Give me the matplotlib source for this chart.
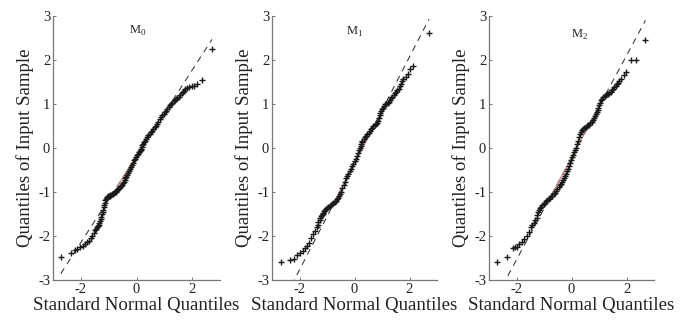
import numpy as np
import matplotlib
matplotlib.use('Agg')
import matplotlib.pyplot as plt

# Q-Q plot readings: theoretical quantile (x) and sample quantile (y) per model
m0_x = [-2.72, -2.36, -2.20, -2.12, -2.03, -1.94, -1.85, -1.78, -1.72, -1.65,
        -1.60, -1.54, -1.48, -1.45, -1.42, -1.39, -1.36, -1.33, -1.31, -1.28,
        -1.26, -1.24, -1.22, -1.20, -1.18, -1.16, -1.14, -1.12, -1.10, -1.07,
        -1.05, -1.02, -1.00, -0.97, -0.94, -0.91, -0.88, -0.84, -0.81, -0.78,
        -0.75, -0.72, -0.69, -0.66, -0.63, -0.60, -0.56, -0.53, -0.49, -0.46,
        -0.43, -0.40, -0.36, -0.33, -0.30, -0.27, -0.24, -0.20, -0.17, -0.13,
        -0.09, -0.05, -0.01, 0.03, 0.07, 0.10, 0.13, 0.15, 0.17, 0.19,
        0.20, 0.23, 0.26, 0.30, 0.34, 0.38, 0.43, 0.47, 0.52, 0.56,
        0.61, 0.65, 0.70, 0.74, 0.79, 0.84, 0.89, 0.93, 0.98, 1.02,
        1.07, 1.11, 1.16, 1.20, 1.25, 1.29, 1.34, 1.38, 1.43, 1.47,
        1.52, 1.57, 1.62, 1.66, 1.71, 1.75, 1.80, 1.89, 1.98, 2.07,
        2.16, 2.35, 2.71]
m0_y = [-2.47, -2.39, -2.32, -2.29, -2.26, -2.22, -2.18, -2.14, -2.11, -2.05,
        -2.01, -1.93, -1.86, -1.83, -1.80, -1.77, -1.74, -1.70, -1.66, -1.61,
        -1.56, -1.50, -1.45, -1.40, -1.35, -1.29, -1.24, -1.19, -1.16, -1.14,
        -1.12, -1.10, -1.09, -1.08, -1.07, -1.06, -1.05, -1.04, -1.03, -1.01,
        -0.99, -0.97, -0.96, -0.94, -0.92, -0.89, -0.86, -0.83, -0.80, -0.77,
        -0.73, -0.69, -0.65, -0.61, -0.56, -0.52, -0.47, -0.43, -0.38, -0.33,
        -0.28, -0.24, -0.20, -0.16, -0.13, -0.10, -0.07, -0.04, -0.02, 0.03,
        0.07, 0.10, 0.13, 0.17, 0.21, 0.25, 0.29, 0.32, 0.36, 0.39,
        0.43, 0.47, 0.51, 0.55, 0.60, 0.65, 0.70, 0.74, 0.78, 0.81,
        0.85, 0.89, 0.93, 0.97, 1.00, 1.03, 1.06, 1.08, 1.11, 1.14,
        1.17, 1.21, 1.24, 1.27, 1.30, 1.33, 1.37, 1.39, 1.41, 1.42,
        1.45, 1.54, 2.24]

m1_x = [-2.67, -2.36, -2.21, -2.08, -1.98, -1.89, -1.80, -1.72, -1.64, -1.58,
        -1.52, -1.45, -1.38, -1.34, -1.31, -1.27, -1.24, -1.21, -1.19, -1.16,
        -1.14, -1.10, -1.07, -1.04, -1.00, -0.95, -0.90, -0.86, -0.81, -0.77,
        -0.72, -0.68, -0.64, -0.60, -0.56, -0.52, -0.49, -0.45, -0.40, -0.36,
        -0.31, -0.27, -0.22, -0.18, -0.13, -0.09, -0.04, 0.00, 0.05, 0.09,
        0.12, 0.16, 0.19, 0.22, 0.24, 0.27, 0.29, 0.33, 0.37, 0.42,
        0.46, 0.51, 0.55, 0.60, 0.64, 0.69, 0.73, 0.78, 0.82, 0.85,
        0.88, 0.91, 0.94, 0.97, 1.00, 1.03, 1.06, 1.11, 1.15, 1.20,
        1.24, 1.29, 1.33, 1.38, 1.42, 1.47, 1.51, 1.56, 1.60, 1.65,
        1.69, 1.73, 1.77, 1.86, 1.95, 2.02, 2.13, 2.71]
m1_y = [-2.60, -2.54, -2.52, -2.44, -2.38, -2.33, -2.28, -2.22, -2.17, -2.05,
        -1.95, -1.88, -1.80, -1.74, -1.69, -1.63, -1.58, -1.55, -1.52, -1.49,
        -1.47, -1.44, -1.41, -1.38, -1.36, -1.34, -1.32, -1.30, -1.28, -1.26,
        -1.23, -1.20, -1.17, -1.13, -1.08, -1.04, -0.99, -0.92, -0.84, -0.77,
        -0.69, -0.63, -0.58, -0.52, -0.47, -0.41, -0.36, -0.30, -0.24, -0.18,
        -0.12, -0.05, 0.01, 0.05, 0.09, 0.13, 0.16, 0.20, 0.24, 0.28,
        0.31, 0.35, 0.39, 0.43, 0.46, 0.49, 0.52, 0.55, 0.57, 0.62,
        0.68, 0.74, 0.79, 0.84, 0.88, 0.92, 0.96, 0.99, 1.01, 1.03,
        1.05, 1.09, 1.13, 1.17, 1.20, 1.24, 1.28, 1.31, 1.35, 1.41,
        1.46, 1.52, 1.57, 1.62, 1.68, 1.80, 1.87, 2.62]

m2_x = [-2.71, -2.36, -2.14, -2.05, -1.99, -1.90, -1.81, -1.72, -1.63, -1.55,
        -1.46, -1.42, -1.37, -1.32, -1.27, -1.24, -1.21, -1.18, -1.15, -1.10,
        -1.06, -1.01, -0.97, -0.92, -0.88, -0.83, -0.79, -0.74, -0.70, -0.65,
        -0.61, -0.56, -0.52, -0.47, -0.43, -0.40, -0.36, -0.32, -0.29, -0.25,
        -0.21, -0.17, -0.13, -0.10, -0.06, -0.02, 0.02, 0.06, 0.10, 0.13,
        0.17, 0.20, 0.24, 0.27, 0.31, 0.35, 0.39, 0.43, 0.47, 0.51,
        0.56, 0.60, 0.65, 0.69, 0.74, 0.78, 0.83, 0.86, 0.89, 0.92,
        0.95, 0.98, 1.01, 1.04, 1.07, 1.11, 1.16, 1.20, 1.25, 1.29,
        1.34, 1.38, 1.43, 1.47, 1.52, 1.56, 1.61, 1.65, 1.70, 1.74,
        1.79, 1.91, 1.97, 2.15, 2.33, 2.69]
m2_y = [-2.58, -2.47, -2.28, -2.26, -2.24, -2.19, -2.13, -2.06, -1.99, -1.90,
        -1.80, -1.75, -1.70, -1.64, -1.58, -1.52, -1.46, -1.41, -1.36, -1.33,
        -1.30, -1.27, -1.24, -1.21, -1.18, -1.15, -1.13, -1.10, -1.08, -1.05,
        -1.02, -0.97, -0.93, -0.88, -0.84, -0.81, -0.77, -0.73, -0.69, -0.63,
        -0.58, -0.52, -0.47, -0.40, -0.34, -0.27, -0.21, -0.15, -0.10, -0.04,
        0.01, 0.08, 0.16, 0.24, 0.31, 0.36, 0.40, 0.43, 0.46, 0.48,
        0.50, 0.52, 0.53, 0.56, 0.59, 0.63, 0.68, 0.72, 0.77, 0.82,
        0.87, 0.92, 0.98, 1.03, 1.09, 1.12, 1.15, 1.18, 1.20, 1.22,
        1.23, 1.25, 1.27, 1.31, 1.35, 1.38, 1.42, 1.45, 1.47, 1.52,
        1.57, 1.66, 1.72, 2.01, 2.01, 2.46]

# reference line through the quartiles
ref_intercept = [-0.19, -0.35, -0.22]
ref_slope = [0.98, 1.21, 1.16]

titles = [r'$\mathrm{M}_{\mathrm{0}}$', r'$\mathrm{M}_{\mathrm{1}}$', r'$\mathrm{M}_{\mathrm{2}}$']
title_pos = [(0.06, 2.65), (0.0, 2.64), (0.29, 2.58)]

plt.rcParams['font.family'] = ['Liberation Serif', 'DejaVu Serif']
plt.rcParams['mathtext.fontset'] = 'custom'
plt.rcParams['mathtext.rm'] = 'Liberation Serif'
plt.rcParams['axes.unicode_minus'] = False

fig = plt.figure(figsize=(6.86, 3.27), dpi=100)

# axes boxes in pixels (left, right) of the 686x327 image
boxes = [(53, 220), (272, 437), (489, 654)]
bottom, top = 280, 16
W, H = 686.0, 327.0

data = [(m0_x, m0_y), (m1_x, m1_y), (m2_x, m2_y)]
text_col = '#222222'

for i, (xs, ys) in enumerate(data):
    l, r = boxes[i]
    ax = fig.add_axes([l / W, (H - bottom) / H, (r - l) / W, (bottom - top) / H])
    xs = np.array(xs)
    ys = np.array(ys)

    # dashed extended line over the data range
    lx = np.array([xs.min(), xs.max()])
    ax.plot(lx, ref_intercept[i] + ref_slope[i] * lx, color='#333333',
            lw=0.75, dashes=(6, 5), zorder=1)
    # solid red part between the quartiles
    qx = np.array([-0.674, 0.674])
    ax.plot(qx, ref_intercept[i] + ref_slope[i] * qx, color='#d08080',
            lw=0.8, zorder=1)
    ax.plot(xs, ys, '+', color='#1a1a1a', ms=4, mew=1.0, zorder=2)

    ax.set_xlim(-3, 3)
    ax.set_ylim(-3, 3)
    ax.set_xticks([-2, 0, 2])
    ax.set_yticks([-3, -2, -1, 0, 1, 2, 3])
    for s in ['top', 'right']:
        ax.spines[s].set_visible(False)
    for s in ['left', 'bottom']:
        ax.spines[s].set_color('#777777')
        ax.spines[s].set_linewidth(0.9)
    ax.tick_params(direction='in', length=2.5, width=0.7, color='#777777',
                   labelsize=10.5, labelcolor=text_col, pad=2)
    ax.set_xlabel('Standard Normal Quantiles', fontsize=13.6, color=text_col,
                  labelpad=1)
    ax.set_ylabel('Quantiles of Input Sample', fontsize=13.6, color=text_col,
                  labelpad=3)
    ax.text(title_pos[i][0], title_pos[i][1], titles[i], fontsize=9,
            color=text_col, ha='center', va='center')

fig.savefig('out.png', dpi=100)
